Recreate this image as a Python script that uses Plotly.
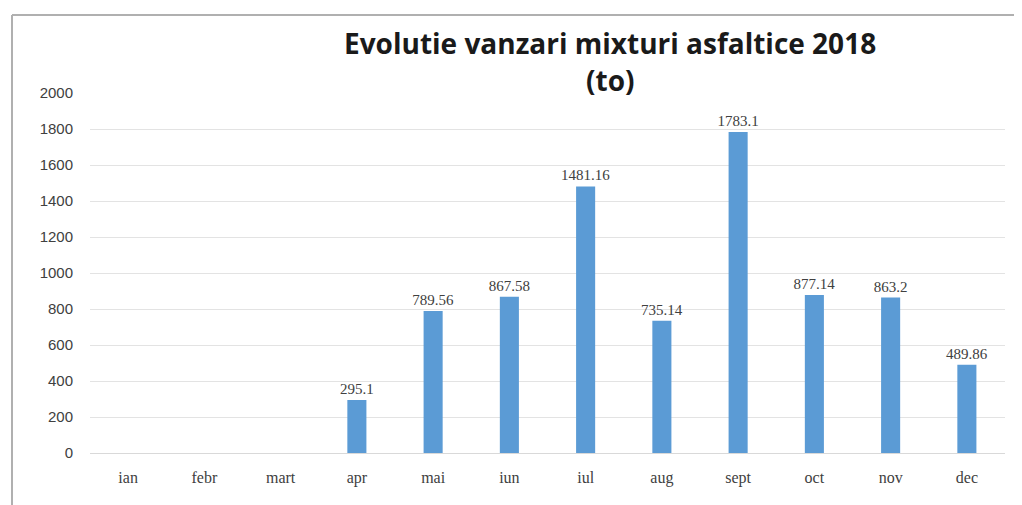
import plotly.graph_objects as go

months = ["ian", "febr", "mart", "apr", "mai", "iun", "iul", "aug", "sept", "oct", "nov", "dec"]
values = [None, None, None, 295.1, 789.56, 867.58, 1481.16, 735.14, 1783.1, 877.14, 863.2, 489.86]
labels = ["" if v is None else f"{v:g}" for v in values]
y_ticks = list(range(0, 2001, 200))

OFF = 8  # page body margin
W, H = 1022 - OFF, 505 - OFF
L = 90 - OFF
T = 93 - OFF
R = W - (1005 - OFF)
B = H - (453 - OFF)
pw, ph = W - L - R, H - T - B

def px(x):
    return (x - OFF - L) / pw

def py(y):
    return (H - B - (y - OFF)) / ph

fig = go.Figure(go.Bar(
    x=months, y=values, text=labels, textposition="outside",
    constraintext="none",
    textfont=dict(family="Liberation Serif", size=15, color="#404040"),
    marker=dict(color="#5b9bd5", line=dict(width=0)),
    width=0.25, cliponaxis=False,
))

title_font = dict(family="Open Sans", size=28, color="#1a1a1a")
fig.update_layout(
    width=W, height=H,
    margin=dict(l=L, r=R, t=T, b=B),
    paper_bgcolor="white", plot_bgcolor="white",
    showlegend=False,
    xaxis=dict(
        showgrid=False, showline=True, linecolor="#d9d9d9", linewidth=1,
        ticks="", ticklabelstandoff=10,
        tickfont=dict(family="Liberation Serif", size=16, color="#404040"),
    ),
    yaxis=dict(
        range=[0, 2000], tickvals=y_ticks, showgrid=True, gridcolor="#e3e3e3",
        zeroline=False, showline=False, ticks="", ticklabelstandoff=16,
        tickfont=dict(family="Liberation Sans", size=15, color="#404040"),
    ),
    annotations=[
        dict(text="<b>Evolutie vanzari mixturi asfaltice 2018</b>", xref="paper", yref="paper",
             x=px(610), y=py(43), xanchor="center", yanchor="middle", showarrow=False, font=title_font),
        dict(text="<b>(to)</b>", xref="paper", yref="paper",
             x=px(610), y=py(80), xanchor="center", yanchor="middle", showarrow=False, font=title_font),
    ],
    shapes=[
        dict(type="line", xref="paper", yref="paper", x0=px(12), x1=px(12), y0=py(15), y1=py(505),
             line=dict(color="#b0b0b0", width=2)),
        dict(type="line", xref="paper", yref="paper", x0=px(12), x1=px(1022), y0=py(15), y1=py(15),
             line=dict(color="#b0b0b0", width=2)),
    ],
)

fig.write_html("out.html")
